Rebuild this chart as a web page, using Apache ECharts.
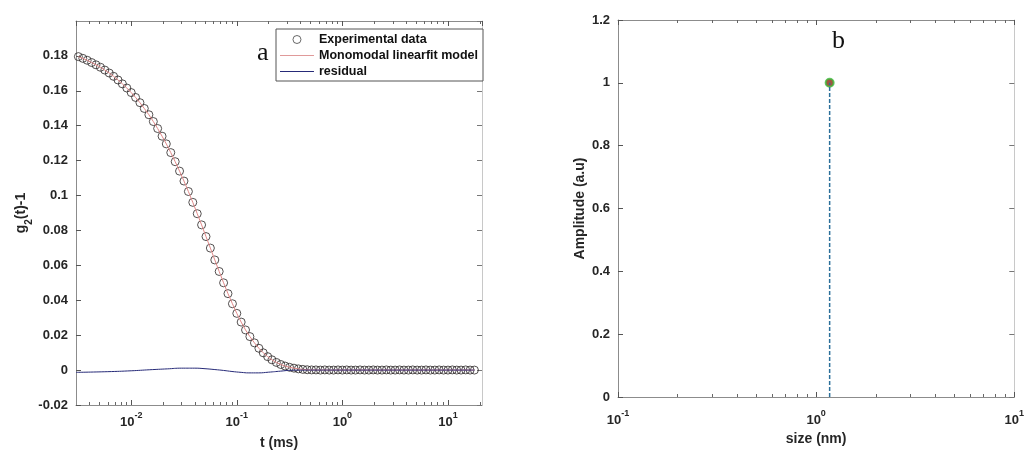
<!DOCTYPE html>
<html><head><meta charset="utf-8">
<script src="https://cdn.jsdelivr.net/npm/echarts@6/dist/echarts.min.js"></script>
<style>html,body{margin:0;padding:0;background:#fff}#c{width:1027px;height:455px}</style>
</head><body><div id="c"></div>
<script>
// ---------- data (left: DLS correlation) ----------
const tTimes = [0.00316,0.00348,0.00383,0.00422,0.00464,0.00511,0.00562,0.00619,0.00681,0.00750,0.00825,0.00909,
0.0100,0.0110,0.0121,0.0133,0.0147,0.0162,0.0178,0.0196,0.0215,0.0237,0.0261,0.0287,0.0316,0.0348,0.0383,0.0422,0.0464,0.0511,0.0562,0.0619,0.0681,0.0750,0.0825,0.0909,
0.100,0.110,0.121,0.133,0.147,0.162,0.178,0.196,0.215,0.237,0.261,0.287,0.316,0.348,0.383,0.422,0.464,0.511,0.562,0.619,0.681,0.750,0.825,0.909,
1.00,1.10,1.21,1.33,1.47,1.62,1.78,1.96,2.15,2.37,2.61,2.87,3.16,3.48,3.83,4.22,4.64,5.11,5.62,6.19,6.81,7.50,8.25,9.09,
10.0,11.0,12.1,13.3,14.7,16.2,17.8];
const g2Values = [0.1796,0.1786,0.1775,0.1762,0.1749,0.1735,0.1719,0.1702,0.1683,0.1662,0.1640,0.1616,
0.1590,0.1562,0.1532,0.1499,0.1463,0.1424,0.1384,0.1340,0.1296,0.1246,0.1194,0.1140,0.1083,0.1023,0.0961,0.0896,0.0832,0.0765,0.0699,0.0631,0.0565,0.0500,0.0438,0.0380,
0.0325,0.0275,0.0230,0.0192,0.0156,0.0125,0.0099,0.0077,0.0059,0.0044,0.0032,0.0023,0.0016,0.0011,0.0007,0.0004,0.0002,0.0001,0.0001,0.0000,0.0001,0.0000,0.0000,0.0001,
0.0000,0.0001,0.0000,0.0000,0.0001,0.0000,0.0000,0.0001,0.0000,0.0000,0.0001,0.0000,0.0000,0.0001,0.0000,0.0000,0.0001,0.0000,0.0000,0.0001,0.0000,0.0000,0.0001,0.0000,
0.0000,0.0001,0.0000,0.0000,0.0001,0.0000,0.0000];
const fitValues = g2Values;
const residualTimes = [0.003,0.006,0.01,0.015,0.022,0.03,0.04,0.05,0.062,0.075,0.09,0.11,0.13,0.16,0.2,0.26,0.33,0.5,1,17.8];
const residualValues = [-0.0013,-0.0009,-0.0004,0.0002,0.0007,0.0011,0.0011,0.0008,0.0003,-0.0002,-0.0008,-0.0013,-0.0016,-0.0016,-0.0012,-0.0006,-0.0001,0,0,0];
// ---------- data (right: size distribution) ----------
const sizeNm = [1.17];
const amplitude = [1];
// ---------- axis ranges / ticks ----------
const leftX = {min: 0.003, max: 21};
const leftY = {min: -0.02, max: 0.2, interval: 0.02};
const rightX = {min: 0.1, max: 10};
const rightY = {min: 0, max: 1.2, interval: 0.2};
const decades = [-3,-2,-1,0,1];
const minorMultipliers = [2,3,4,5,6,7,8,9];

const FONT = 'Liberation Sans, Arial, sans-serif';
const TXT = '#262626';
const AX = '#8c8c8c';
// thin horizontal line icon for the legend (degenerate top/bottom strips keep the 1px line thin)
const LINE_ICON = 'path://M0,0 h34 v0.01 h-34 Z M0,3.5 h34 v1.1 h-34 Z M0,8 h34 v0.01 h-34 Z';

function minorTicks(r){
  const out=[];
  decades.forEach(e=>minorMultipliers.forEach(m=>{const v=m*Math.pow(10,e); if(v>r.min&&v<r.max) out.push(Math.log10(v));}));
  return out;
}
function logLabel(margin, showEnds){
  return {
    margin: margin,
    formatter: v => '{b|10}{s|' + Math.round(Math.log10(v)) + '}',
    showMinLabel: showEnds, showMaxLabel: showEnds,
    rich: {
      b: {fontSize: 13, fontWeight: 'bold', fontFamily: FONT, color: TXT, verticalAlign: 'bottom', lineHeight: 18},
      s: {fontSize: 9, fontWeight: 'bold', fontFamily: FONT, color: TXT, verticalAlign: 'top', lineHeight: 18}
    }
  };
}
function logAxes(grid, r, labelMargin, showEnds, name, nameGap){
  return [
    {type:'log', gridIndex:grid, min:r.min, max:r.max, position:'bottom', name:name, nameLocation:'middle', nameGap:nameGap,
     nameTextStyle:{fontSize:14,fontWeight:'bold',fontFamily:FONT,color:TXT},
     axisLine:{onZero:false,lineStyle:{color:AX,width:1}}, axisTick:{show:true,inside:true,length:5,lineStyle:{color:'#555'}},
     axisLabel:logLabel(labelMargin, showEnds), splitLine:{show:false}, minorTick:{show:false}},
    {type:'log', gridIndex:grid, min:r.min, max:r.max, position:'top',
     axisLine:{onZero:false,lineStyle:{color:AX,width:1}}, axisTick:{show:true,inside:true,length:5,lineStyle:{color:'#555'}},
     axisLabel:{show:false}, splitLine:{show:false}},
    {type:'value', gridIndex:grid, min:Math.log10(r.min), max:Math.log10(r.max), position:'bottom',
     axisLine:{show:false,onZero:false}, axisLabel:{show:false}, splitLine:{show:false},
     axisTick:{show:true,inside:true,length:3,customValues:minorTicks(r),lineStyle:{color:'#666'}}},
    {type:'value', gridIndex:grid, min:Math.log10(r.min), max:Math.log10(r.max), position:'top',
     axisLine:{show:false,onZero:false}, axisLabel:{show:false}, splitLine:{show:false},
     axisTick:{show:true,inside:true,length:3,customValues:minorTicks(r),lineStyle:{color:'#666'}}}
  ];
}
function yAxes(grid, r, name, nameGap, nameRich, showMax){
  return [
    {type:'value', gridIndex:grid, min:r.min, max:r.max, interval:r.interval, position:'left',
     name:name, nameLocation:'middle', nameGap:nameGap, nameMoveOverlap:false,
     nameTextStyle:{fontSize:14,fontWeight:'bold',fontFamily:FONT,color:TXT, rich:nameRich},
     axisLine:{show:true,onZero:false,lineStyle:{color:AX,width:1}}, axisTick:{show:true,inside:true,length:5,lineStyle:{color:'#555'}},
     axisLabel:{fontSize:13,fontWeight:'bold',fontFamily:FONT,color:TXT,margin:8, showMaxLabel: showMax},
     splitLine:{show:false}},
    {type:'value', gridIndex:grid, min:r.min, max:r.max, interval:r.interval, position:'right',
     axisLine:{show:true,onZero:false,lineStyle:{color:'#c8c8c8',width:1}}, axisTick:{show:true,inside:true,length:5,lineStyle:{color:'#777'}},
     axisLabel:{show:false}, splitLine:{show:false}}
  ];
}

const gRich = {
  g: {fontSize:14,fontWeight:'bold',fontFamily:FONT,color:TXT,verticalAlign:'top',lineHeight:20},
  sub: {fontSize:10,fontWeight:'bold',fontFamily:FONT,color:TXT,verticalAlign:'bottom',lineHeight:20}
};

const chart = echarts.init(document.getElementById('c'), null, {renderer:'canvas'});
chart.setOption({
  backgroundColor:'#fff',
  animation:false,
  grid:[
    {left:76, top:21, width:406, height:387},
    {left:618, top:20, width:400, height:377}
  ],
  xAxis: [].concat(logAxes(0, leftX, 6, false, 't (ms)', 31), logAxes(1, rightX, 12, true, 'size (nm)', 33)),
  yAxis: [].concat(yAxes(0, leftY, '{g|g}{sub|2}{g|(t)-1}', 42, gRich, false), yAxes(1, rightY, 'Amplitude (a.u)', 31, null, true)),
  legend:{
    left:276, top:29, orient:'vertical', itemGap:3, itemWidth:34, itemHeight:8,
    padding:[4,5,3,4], borderColor:'#555', borderWidth:1, backgroundColor:'#fff', borderRadius:0,
    textStyle:{fontSize:12.5,fontWeight:'bold',fontFamily:FONT,color:'#111'},
    data:[
      {name:'Experimental data', icon:'circle', itemStyle:{color:'rgba(0,0,0,0)', borderColor:'#444', borderWidth:1}},
      {name:'Monomodal linearfit model', icon:LINE_ICON, itemStyle:{color:'#e09a9a', borderWidth:0}},
      {name:'residual', icon:LINE_ICON, itemStyle:{color:'#262a78', borderWidth:0}}
    ]
  },
  series:[
    {name:'Experimental data', type:'scatter', xAxisIndex:0, yAxisIndex:0,
     data:tTimes.map((t,i)=>[t,g2Values[i]]), symbol:'circle', symbolSize:8,
     itemStyle:{color:'rgba(0,0,0,0)', borderColor:'#2a2626', borderWidth:1}},
    {name:'Monomodal linearfit model', type:'line', xAxisIndex:0, yAxisIndex:0,
     data:tTimes.map((t,i)=>[t,fitValues[i]]), symbol:'none', lineStyle:{color:'#e08888', width:1}, itemStyle:{color:'#e09a9a'}},
    {name:'residual', type:'line', xAxisIndex:0, yAxisIndex:0, smooth:true,
     data:residualTimes.map((t,i)=>[t,residualValues[i]]), symbol:'none', lineStyle:{color:'#262a78', width:1}, itemStyle:{color:'#262a78'}},
    {type:'line', xAxisIndex:4, yAxisIndex:2,
     data:[[sizeNm[0],0],[sizeNm[0],amplitude[0]]], symbol:'none',
     lineStyle:{color:'#2b6f9a', width:1.5, type:[4,2]}},
    {type:'scatter', xAxisIndex:4, yAxisIndex:2,
     data:sizeNm.map((s,i)=>[s,amplitude[i]]), symbol:'circle', symbolSize:8,
     itemStyle:{color:'#8c2a10', borderColor:'#3cbc3c', borderWidth:2}}
  ],
  graphic:[
    {type:'text', left:257, top:40, style:{text:'a', font:'26px "Liberation Serif", serif', fill:'#111'}},
    {type:'text', left:832, top:28, style:{text:'b', font:'26px "Liberation Serif", serif', fill:'#111'}}
  ]
});
</script>
</body></html>
